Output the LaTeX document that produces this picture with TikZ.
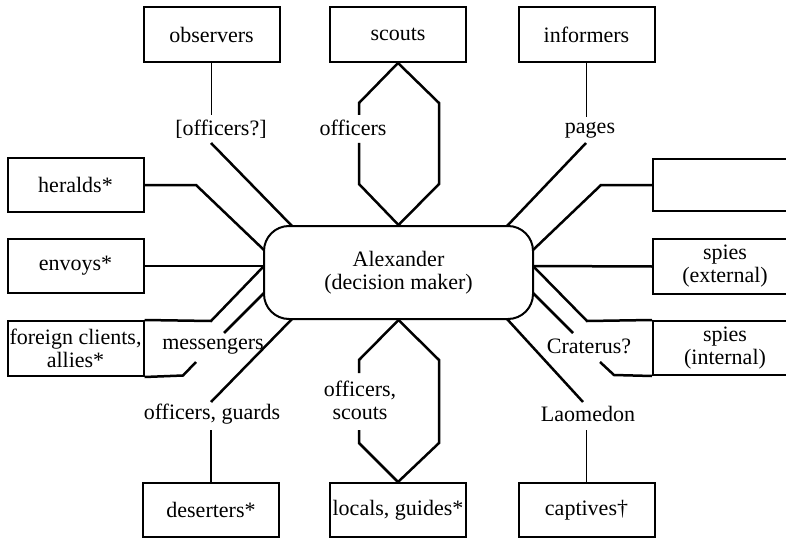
\documentclass[tikz,border=0pt]{standalone}
\usepackage{fontspec}
\setmainfont{Liberation Serif}

\begin{document}
\begin{tikzpicture}[x=1pt, y=-1pt, font=\fontsize{22}{23}\selectfont]
            \tikzstyle{box} = [draw, line width=2pt, inner sep=0pt, minimum width=136pt, minimum height=55pt, align=center]
            \tikzstyle{link} = [line width=2.5pt]
            \tikzstyle{thin} = [line width=1.6pt]
            \tikzstyle{lbl} = [inner sep=0pt, align=center]
            \useasboundingbox (0, 0) rectangle (786, 540);
            \clip (0, 0) rectangle (786, 540);
            \node[draw, line width=2pt, rounded corners=25pt, minimum width=269pt, minimum height=93pt, align=center] (alex) at (398.5, 272.5) {Alexander\\(decision maker)};
            \node[box] (observers) at (211.5, 34.5) {observers};
            \node[box] (scouts) at (398, 34.5) {scouts};
            \node[box] (informers) at (586.5, 34.5) {informers};
            \node[box, minimum height=54pt] (heralds) at (75.5, 185) {heralds*};
            \node[box, minimum height=54pt] (envoys) at (75.5, 266) {envoys*};
            \node[box] (clients) at (75.5, 348.5) {foreign clients,\\allies*};
            \node[box, minimum width=144pt, minimum height=52pt] (blank) at (725, 185) {};
            \node[box, minimum width=144pt] (external) at (725, 266.5) {spies\\(external)};
            \node[box, minimum width=144pt, minimum height=54pt] (internal) at (725, 348) {spies\\(internal)};
            \node[box, minimum height=54pt] (deserters) at (211, 510) {deserters*};
            \node[box, minimum height=54pt] (locals) at (398, 510) {locals, guides*};
            \node[box, minimum height=54pt] (captives) at (586.5, 510) {captives†};
            \node[lbl] (obslbl) at (221, 129) {[officers?]};
            \node[lbl] (scoutslbl) at (353, 128) {officers};
            \node[lbl] (pageslbl) at (590, 130) {pages};
            \node[lbl] (msglbl) at (213, 346) {messengers};
            \node[lbl] (craterus) at (589, 346) {Craterus?};
            \node[lbl] (guardslbl) at (212, 414) {officers, guards};
            \node[lbl] (localslbl) at (360, 400) {officers,\\scouts};
            \node[lbl] (laomedon) at (588, 414) {Laomedon};
            \coordinate (obs-a) at (211.5, 115);
            \coordinate (obs-b) at (211, 143);
            \coordinate (obs-c) at (292, 226);
            \coordinate (th-tl) at (359, 103);
            \coordinate (th-la) at (359, 115);
            \coordinate (th-lb) at (359, 143);
            \coordinate (th-bl) at (359, 184);
            \coordinate (th-tr) at (439, 103);
            \coordinate (th-br) at (439, 184);
            \coordinate (pag-a) at (586.5, 117);
            \coordinate (pag-b) at (586, 143);
            \coordinate (pag-c) at (507, 226);
            \coordinate (her-a) at (196, 185);
            \coordinate (her-b) at (264, 250);
            \coordinate (env-b) at (264, 266);
            \coordinate (cl-a) at (211, 321);
            \coordinate (msg-a) at (264, 293);
            \coordinate (msg-b) at (224, 333);
            \coordinate (msg-c) at (196, 362);
            \coordinate (msg-d) at (183, 375.5);
            \coordinate (gd-a) at (292, 319);
            \coordinate (gd-b) at (211, 402);
            \coordinate (gd-c) at (211, 430);
            \coordinate (bh-tl) at (359, 360);
            \coordinate (bh-la) at (359, 373);
            \coordinate (bh-lb) at (359, 430);
            \coordinate (bh-bl) at (359, 443);
            \coordinate (bh-tr) at (439, 360);
            \coordinate (bh-br) at (439, 443);
            \coordinate (lao-a) at (507, 319);
            \coordinate (lao-b) at (583, 402);
            \coordinate (lao-c) at (586.5, 430);
            \coordinate (bl-a) at (601, 185);
            \coordinate (bl-b) at (533, 250);
            \coordinate (ext-b) at (533, 266);
            \coordinate (int-b) at (587, 321);
            \coordinate (cr-a) at (533, 293);
            \coordinate (cr-b) at (573, 333);
            \coordinate (cr-c) at (600, 362);
            \coordinate (cr-d) at (614, 375);
            \draw[thin] (observers.south) -- (obs-a);
            \draw[link] (obs-b) -- (obs-c);
            \draw[link] (scouts.south) -- (th-tl) -- (th-la);
            \draw[link] (th-lb) -- (th-bl) -- (alex.north);
            \draw[link] (scouts.south) -- (th-tr) -- (th-br) -- (alex.north);
            \draw[thin] (informers.south) -- (pag-a);
            \draw[link] (pag-b) -- (pag-c);
            \draw[link] (heralds.east) -- (her-a) -- (her-b);
            \draw[link] (envoys.east) -- (env-b);
            \draw[link] (clients.north east) -- (cl-a) -- (env-b);
            \draw[link] (msg-a) -- (msg-b);
            \draw[link] (msg-c) -- (msg-d) -- (clients.south east);
            \draw[link] (gd-a) -- (gd-b);
            \draw[thin] (gd-c) -- (deserters.north);
            \draw[link] (alex.south) -- (bh-tl) -- (bh-la);
            \draw[link] (bh-lb) -- (bh-bl) -- (locals.north);
            \draw[link] (alex.south) -- (bh-tr) -- (bh-br) -- (locals.north);
            \draw[link] (lao-a) -- (lao-b);
            \draw[thin] (lao-c) -- (captives.north);
            \draw[link] (blank.west) -- (bl-a) -- (bl-b);
            \draw[link] (external.west) -- (ext-b);
            \draw[link] (ext-b) -- (int-b) -- (internal.north west);
            \draw[link] (cr-a) -- (cr-b);
            \draw[link] (cr-c) -- (cr-d) -- (internal.south west);
        \end{tikzpicture}
\end{document}
